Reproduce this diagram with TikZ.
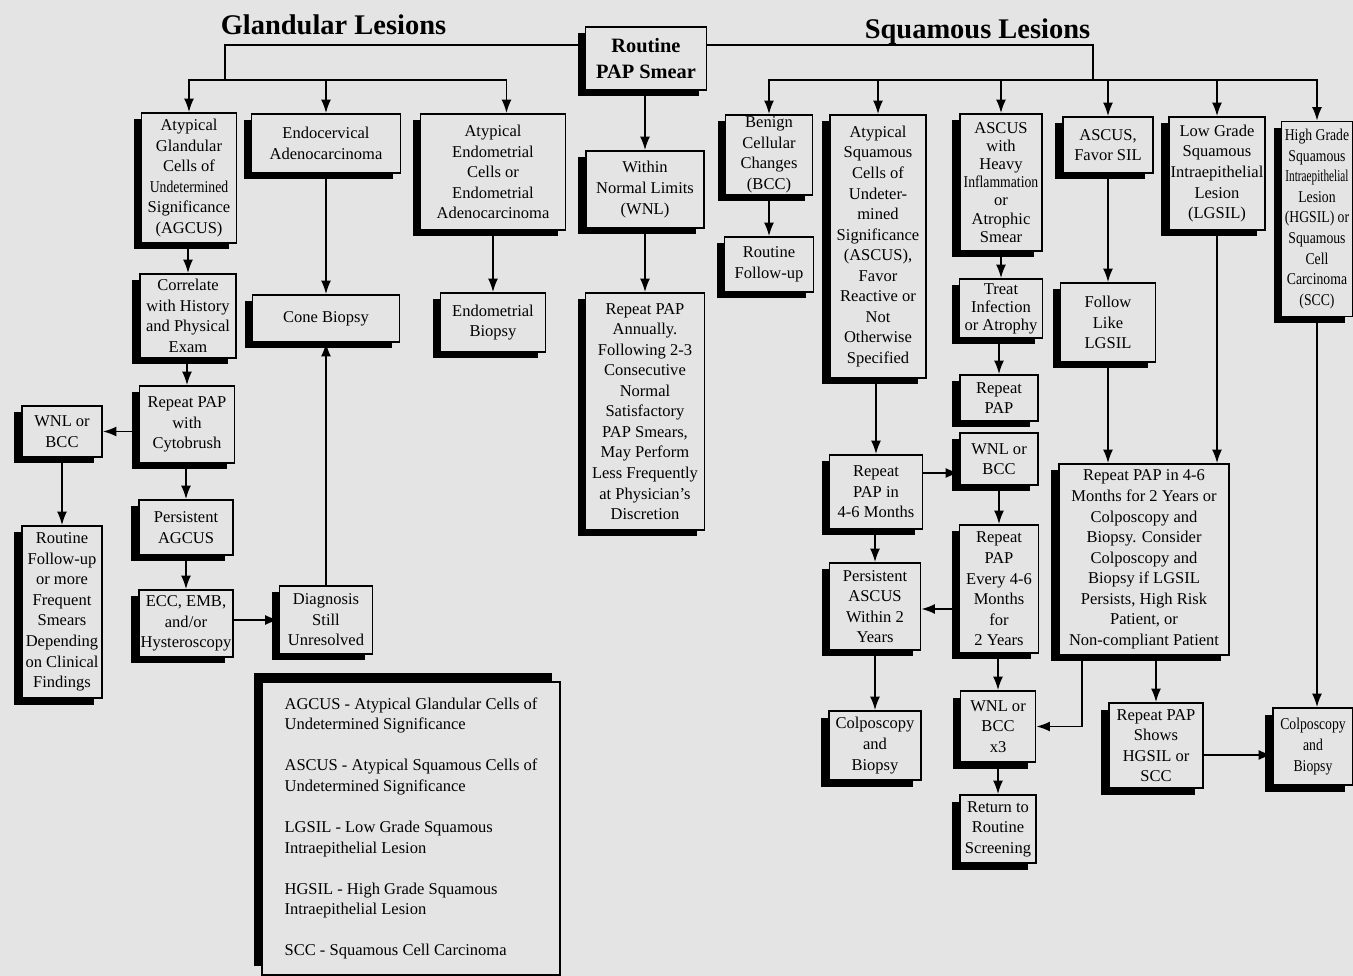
\documentclass[tikz,border=0pt]{standalone}
\usepackage{fontspec}
\setmainfont{Liberation Serif}
\newfontfamily\narrowfont[FakeStretch=0.83]{Liberation Serif}
\usetikzlibrary{arrows.meta,shadows}

\definecolor{paper}{RGB}{228,228,228}
\newcommand{\boxfont}{\fontsize{9.4}{11.7}\selectfont}
\newcommand{\tightfont}{\fontsize{9.4}{10.3}\selectfont}
\newcommand{\papfont}{\fontsize{11.6}{14.8}\selectfont\bfseries}

\tikzset{
    plain/.style={draw, fill=paper, line width=1pt, align=center, inner sep=1pt, font=\boxfont},
    box/.style={plain, drop shadow={shadow xshift=-0.16cm, shadow yshift=-0.13cm, fill=black, opacity=1}},
    keybox/.style={plain, drop shadow={shadow xshift=-0.16cm, shadow yshift=0.18cm, fill=black, opacity=1}},
    wh/.style 2 args={minimum width=#1*0.02cm, minimum height=#2*0.02cm},
    link/.style={line width=1pt},
    arr/.style={line width=1pt, -{Latex[length=2.7mm,width=2mm]}},
    title/.style={font=\fontsize{16.2}{19}\selectfont\bfseries, anchor=base}
}

\begin{document}
\begin{tikzpicture}[x=0.02cm, y=-0.02cm]
        \fill[paper] (0,0) rectangle (1353,976);
        \useasboundingbox (0,0) rectangle (1353,976);

        \node[title] (glt) at (333.5,35) {Glandular Lesions};
        \node[title] (sqt) at (977.5,39) {Squamous Lesions};
        \node[box, wh={121}{63}, font=\papfont] (pap) at (646,58.5) {Routine\\PAP Smear};

        \coordinate (gj) at (225,80);
        \coordinate (sj) at (1093,80);

        % glandular side
        \node[box, wh={95}{130}] (agcus) at (189,178) {Atypical\\Glandular\\Cells of\\{\narrowfont Undetermined}\\Significance\\(AGCUS)};
        \node[box, wh={149}{59}] (endoc) at (326,143.5) {Endocervical\\Adenocarcinoma};
        \node[box, wh={145}{116}] (atend) at (493,172) {Atypical\\Endometrial\\Cells or\\Endometrial\\Adenocarcinoma};
        \node[box, wh={96}{84}] (correl) at (188,316) {Correlate\\with History\\and Physical\\Exam};
        \node[box, wh={147}{47}] (cone) at (326,318.5) {Cone Biopsy};
        \node[box, wh={105}{59}] (embx) at (493,322.5) {Endometrial\\Biopsy};
        \node[box, wh={95}{77}] (rcyto) at (187,424.5) {Repeat PAP\\with\\Cytobrush};
        \node[box, wh={80}{51}] (wnll) at (62,431.5) {WNL or\\BCC};
        \node[box, wh={80}{172}] (rfl) at (62,612) {Routine\\Follow-up\\or more\\Frequent\\Smears\\Depending\\on Clinical\\Findings};
        \node[box, wh={94}{55}] (persag) at (186,527.5) {Persistent\\AGCUS};
        \node[box, wh={94}{67}] (ecc) at (186,623.5) {ECC, EMB,\\and/or\\Hysteroscopy};
        \node[box, wh={93}{68}] (diag) at (326,620) {Diagnosis\\Still\\Unresolved};

        % normal
        \node[box, wh={118}{77}] (wnl) at (645,189.5) {Within\\Normal Limits\\(WNL)};
        \node[box, wh={119}{237}] (annual) at (645,411.5) {Repeat PAP\\Annually.\\Following 2-3\\Consecutive\\Normal\\Satisfactory\\PAP Smears,\\May Perform\\Less Frequently\\at Physician's\\Discretion};

        % squamous side
        \node[box, wh={87}{80}] (bcc) at (769,155) {Benign\\Cellular\\Changes\\(BCC)};
        \node[box, wh={89}{55}] (fup) at (769,264.5) {Routine\\Follow-up};
        \node[box, wh={96}{263}] (ascus) at (878,246.5) {Atypical\\Squamous\\Cells of\\Undeter-\\mined\\Significance\\(ASCUS),\\Favor\\Reactive or\\Not\\Otherwise\\Specified};
        \node[box, wh={82}{137}, font=\tightfont] (heavy) at (1001,182.5) {ASCUS\\with\\Heavy\\{\narrowfont Inflammation}\\or\\Atrophic\\Smear};
        \node[box, wh={90}{56}] (favsil) at (1108,145) {ASCUS,\\Favor SIL};
        \node[box, wh={95}{113}] (lgsil) at (1217,173.5) {Low Grade\\Squamous\\Intraepithelial\\Lesion\\(LGSIL)};
        \node[box, wh={71}{195}, font=\boxfont\narrowfont] (hgsil) at (1317,219) {High Grade\\Squamous\\\scalebox{0.82}[1]{Intraepithelial}\\Lesion\\(HGSIL) or\\Squamous\\Cell\\Carcinoma\\(SCC)};
        \node[box, wh={83}{59}, font=\tightfont] (treat) at (1001,308.5) {Treat\\Infection\\or Atrophy};
        \node[box, wh={95}{79}] (follow) at (1108,322.5) {Follow\\Like\\LGSIL};
        \node[box, wh={78}{46}] (rpap) at (999,398) {Repeat\\PAP};
        \node[box, wh={78}{52}] (wnlb) at (999,459) {WNL or\\BCC};
        \node[box, wh={93}{74}] (rp46) at (876,492) {Repeat\\PAP in\\4-6 Months};
        \node[box, wh={79}{128}] (rp2y) at (999,589) {Repeat\\PAP\\Every 4-6\\Months\\for\\2 Years};
        \node[box, wh={91}{87}] (persasc) at (875,606.5) {Persistent\\ASCUS\\Within 2\\Years};
        \node[box, wh={170}{191}] (big) at (1144,559.5) {Repeat PAP in 4-6\\Months for 2 Years or\\Colposcopy and\\Biopsy. Consider\\Colposcopy and\\Biopsy if LGSIL\\Persists, High Risk\\Patient, or\\Non-compliant Patient};
        \node[box, wh={92}{69}] (colpl) at (875,745.5) {Colposcopy\\and\\Biopsy};
        \node[box, wh={75}{71}] (wnl3) at (998,726.5) {WNL or\\BCC\\x3};
        \node[box, wh={76}{68}] (ret) at (998,829) {Return to\\Routine\\Screening};
        \node[box, wh={94}{85}] (shows) at (1156,745.5) {Repeat PAP\\Shows\\HGSIL or\\SCC};
        \node[box, wh={80}{77}, font=\boxfont\narrowfont] (colpr) at (1313,746.5) {Colposcopy\\and\\Biopsy};

        \node[keybox, wh={298}{293}, align=left] (key) at (411,828.5) {AGCUS - Atypical Glandular Cells of\\Undetermined Significance\\[0.41cm]ASCUS - Atypical Squamous Cells of\\Undetermined Significance\\[0.41cm]LGSIL - Low Grade Squamous\\Intraepithelial Lesion\\[0.41cm]HGSIL - High Grade Squamous\\Intraepithelial Lesion\\[0.41cm]SCC - Squamous Cell Carcinoma};

        % top branches
        \draw[link] ([yshift=0.27cm]pap.west) -| (gj);
        \draw[arr] (gj) -| (agcus);
        \draw[arr] (gj) -| (endoc);
        \draw[arr] (gj) -| ([xshift=0.27cm]atend.north);
        \draw[link] ([yshift=0.27cm]pap.east) -| (sj);
        \draw[arr] (sj) -| (bcc);
        \draw[arr] (sj) -| (ascus);
        \draw[arr] (sj) -| (heavy);
        \draw[arr] (sj) -| (favsil);
        \draw[arr] (sj) -| (lgsil);
        \draw[arr] (sj) -| (hgsil);
        \draw[arr] (pap.south -| wnl) -- (wnl);
        \draw[arr] (wnl) -- (annual);

        % glandular arrows
        \draw[arr] (agcus.south -| correl) -- (correl);
        \draw[arr] (correl.south -| rcyto) -- (rcyto);
        \draw[arr] (rcyto.west |- wnll) -- (wnll);
        \draw[arr] (wnll) -- (rfl);
        \draw[arr] (rcyto.south -| persag) -- (persag);
        \draw[arr] (persag) -- (ecc);
        \draw[arr] (ecc.east |- diag) -- (diag);
        \draw[arr] (diag) -- (cone);
        \draw[arr] (endoc) -- (cone);
        \draw[arr] (atend) -- (embx);

        % squamous arrows
        \draw[arr] (bcc) -- (fup);
        \draw[arr] (ascus.south -| rp46) -- (rp46);
        \draw[arr] ([yshift=0.38cm]rp46.east) -- ([yshift=0.38cm]rp46.east -| wnlb.west);
        \draw[arr] (rp46.south -| persasc) -- (persasc);
        \draw[arr] (persasc) -- (colpl);
        \draw[arr] (heavy) -- (treat);
        \draw[arr] (treat.south -| rpap) -- (rpap);
        \draw[arr] (wnlb) -- (rp2y);
        \draw[arr] ([yshift=-0.4cm]rp2y.west) -- ([yshift=-0.4cm]rp2y.west -| persasc.east);
        \draw[arr] (rp2y.south -| wnl3) -- (wnl3);
        \draw[arr] (wnl3) -- (ret);
        \draw[arr] (favsil) -- (follow);
        \draw[arr] (follow) -- (follow |- big.north);
        \draw[arr] (lgsil) -- (lgsil |- big.north);
        \draw[arr] ([xshift=-1.24cm]big.south) |- (wnl3);
        \draw[arr] (big.south -| shows) -- (shows);
        \draw[arr] ([yshift=-0.19cm]shows.east) -- ([yshift=-0.19cm]shows.east -| colpr.west);
        \draw[arr] (hgsil) -- (hgsil |- colpr.north);
\end{tikzpicture}
\end{document}
